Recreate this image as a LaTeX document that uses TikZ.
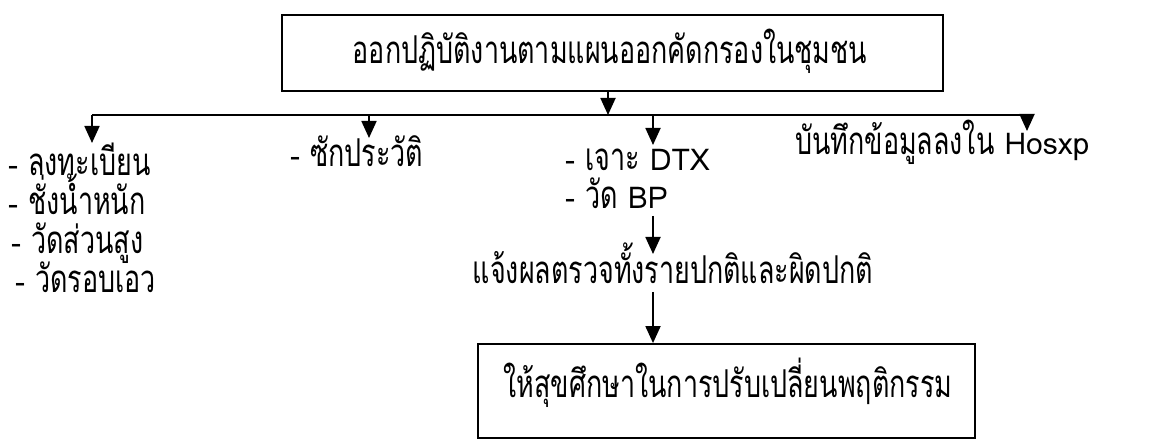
\documentclass[tikz,border=0pt]{standalone}
\usepackage{fontspec}
\usepackage{graphicx}
\setmainfont[Script=Thai]{Loma}
\usetikzlibrary{arrows.meta}
\newcommand\T[1]{\scalebox{0.84}[1.2]{\fontsize{32}{36}\selectfont #1}}
\begin{document}
\begin{tikzpicture}[x=1pt,y=-1pt,
  txt/.style={font=\fontsize{30}{34}\selectfont, inner sep=0pt},
  boxn/.style={draw, line width=1.8pt, inner sep=0pt},
  conn/.style={line width=1.8pt},
  arr/.style={line width=1.8pt, -{Triangle[width=15pt,length=17pt]}}]
\useasboundingbox (0,0) rectangle (1162,443);
% top box
\node[boxn, minimum width=661pt, minimum height=76pt] (top) at (612.5,53) {};
\node[txt, anchor=base] (toptxt) at (610,64) {\T{ออกปฏิบัติงานตามแผนออกคัดกรองในชุมชน}};
% branch line
\coordinate (j) at (608,115);
\coordinate (jl) at (92,115);
\coordinate (jr) at (1027,115);
\draw[arr] (top.south -| j) -- (j);
\draw[conn] (jl) -- (jr);
\coordinate (t1) at (92,143);
\coordinate (t2) at (369,138);
\coordinate (t3) at (653,145);
\coordinate (t4) at (1027,131);
\draw[arr] (jl) -- (t1);
\draw[arr] (t2 |- jl) -- (t2);
\draw[arr] (t3 |- jl) -- (t3);
\draw[arr] (jr) -- (t4);
% left list
\node[txt, anchor=base west] (l1) at (8,176) {- \T{ลงทะเบียน}};
\node[txt, anchor=base west] (l2) at (8,215) {- \T{ชั่งน้ำหนัก}};
\node[txt, anchor=base west] (l3) at (11,254) {- \T{วัดส่วนสูง}};
\node[txt, anchor=base west] (l4) at (15,293) {- \T{วัดรอบเอว}};
% second
\node[txt, anchor=base west] (s1) at (290,167) {- \T{ซักประวัติ}};
% third
\node[txt, anchor=base west] (d1) at (565,171) {- \T{เจาะ} DTX};
\node[txt, anchor=base west] (d2) at (565,209) {- \T{วัด} BP};
% fourth
\node[txt, anchor=base west] (h1) at (795,155) {\T{บันทึกข้อมูลลงใน} Hosxp};
% result
\coordinate (r0) at (653,216);
\coordinate (r1) at (653,254);
\draw[arr] (r0) -- (r1);
\node[txt, anchor=base] (res) at (673,284) {\T{แจ้งผลตรวจทั้งรายปกติและผิดปกติ}};
% bottom box
\node[boxn, minimum width=497pt, minimum height=94pt] (bot) at (726.5,391) {};
\node[txt, anchor=base] (bottxt) at (728,398) {\T{ให้สุขศึกษาในการปรับเปลี่ยนพฤติกรรม}};
\coordinate (b0) at (653,292);
\draw[arr] (b0) -- (b0 |- bot.north);
\end{tikzpicture}
\end{document}
